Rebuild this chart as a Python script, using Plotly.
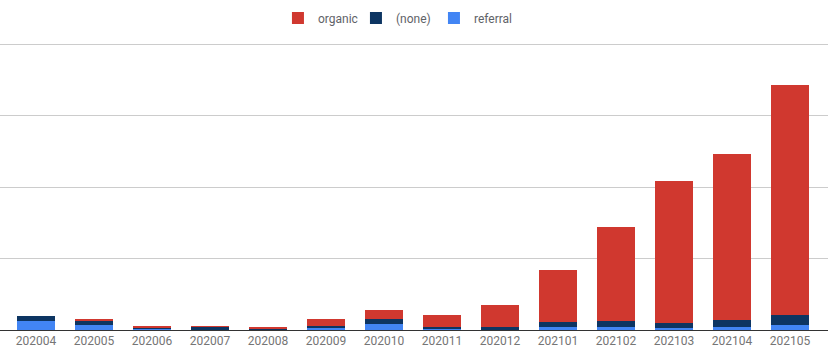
import plotly.graph_objects as go

months = ["202004", "202005", "202006", "202007", "202008", "202009", "202010",
          "202011", "202012", "202101", "202102", "202103", "202104", "202105"]
referral = [13, 7, 2, 0.5, 0.5, 3, 8, 2, 0.5, 4, 4, 3, 4, 7]
none_src = [7, 6, 2, 4, 1, 2, 7, 2, 4, 7, 8, 7, 10, 14]
organic = [0, 1, 1, 1, 3, 10, 13, 17, 31, 73, 132, 199, 232, 321]

fig = go.Figure()
fig.add_trace(go.Bar(x=months, y=referral, name="referral", marker_color="#4285f4",
                     marker_line_width=0, legendrank=3))
fig.add_trace(go.Bar(x=months, y=none_src, name="(none)", marker_color="#0d3562",
                     marker_line_width=0, legendrank=2))
fig.add_trace(go.Bar(x=months, y=organic, name="organic", marker_color="#d0382f",
                     marker_line_width=0, legendrank=1))

fig.update_layout(
    width=835, height=356,
    barmode="stack",
    bargap=0.345,
    plot_bgcolor="white",
    paper_bgcolor="white",
    margin=dict(l=0, r=7, t=40, b=26),
    font=dict(family="Roboto, Arial, sans-serif", size=12, color="#757575"),
    showlegend=True,
    legend=dict(orientation="h", x=0.477, xanchor="center", y=0.99, yanchor="top",
                yref="container", font=dict(size=12, color="#5f6368"),
                traceorder="normal", entrywidth=33),
    xaxis=dict(type="category", range=[-0.621, 13.655], showgrid=False,
               showline=True, linecolor="#333333", linewidth=1,
               ticks="", tickfont=dict(size=12, color="#757575"), fixedrange=True),
    yaxis=dict(range=[0, 405.6], tickvals=[0, 100, 200, 300, 400], showgrid=True,
               gridcolor="#cccccc", gridwidth=1, zeroline=False,
               showticklabels=False, showline=False),
)

fig.write_html("out.html")
